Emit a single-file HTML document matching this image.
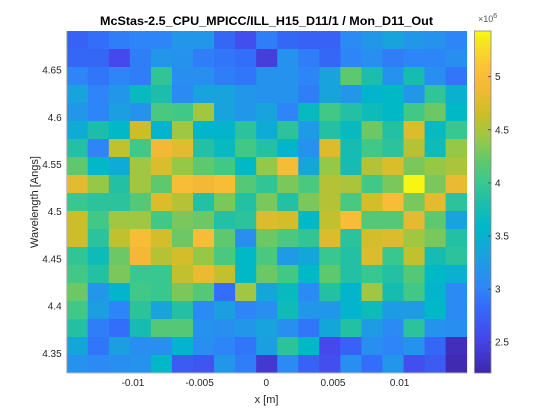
<!DOCTYPE html>
<html><head><meta charset="utf-8"><style>
html,body{margin:0;padding:0;background:#fff;}
svg{display:block;font-family:"Liberation Sans","DejaVu Sans",sans-serif;}
</style></head><body>
<svg id="chart" width="560" height="420" viewBox="0 0 560 420">
<defs>
<linearGradient id="cbgrad" x1="0" y1="1" x2="0" y2="0"></linearGradient>
</defs>
<g id="cells"></g>
<g id="axes"></g>
<text x="266.5" y="25" text-anchor="middle" font-size="11.5" font-weight="bold" fill="#000" textLength="333" lengthAdjust="spacingAndGlyphs">McStas-2.5_CPU_MPICC/ILL_H15_D11/1 / Mon_D11_Out</text>
<text x="266.5" y="403" text-anchor="middle" font-size="11" fill="#262626">x [m]</text>
<text x="0" y="0" transform="translate(38,202) rotate(-90)" text-anchor="middle" font-size="11" fill="#262626">Wavelength [Angs]</text>
<g id="colorbar"></g>
<text x="478" y="22" font-size="9" fill="#555">×10<tspan dy="-4" font-size="7">6</tspan></text>
</svg>
<script>
// ---- data ----
const xTicks = [-0.01, -0.005, 0, 0.005, 0.01];
const xTickLabels = ["-0.01", "-0.005", "0", "0.005", "0.01"];
const yTicks = [4.35, 4.4, 4.45, 4.5, 4.55, 4.6, 4.65];
const yTickLabels = ["4.35", "4.4", "4.45", "4.5", "4.55", "4.6", "4.65"];
const cbTicks = [2.5, 3, 3.5, 4, 4.5, 5];
const cbTickLabels = ["2.5", "3", "3.5", "4", "4.5", "5"];
const xRange = [-0.01497, 0.01503];
const yRange = [4.3291, 4.6914];
const cRange = [2.21, 5.43];
// intensity (x1e6), rows from top (high wavelength) to bottom
const row0  = [2.75,2.85,2.95,3.0,3.0,3.2,3.2,2.8,2.6,2.95,2.8,2.75,2.75,3.05,3.2,3.35,3.2,3.15,3.0];
const row1  = [2.8,2.8,2.55,2.95,3.2,3.15,2.95,2.9,2.85,2.45,3.15,2.95,2.8,3.0,3.1,2.95,3.0,3.0,3.1];
const row2  = [3.0,2.9,3.0,2.95,3.95,3.1,3.1,2.95,2.9,3.15,3.15,3.0,3.35,4.2,3.8,3.15,3.75,3.1,2.9];
const row3  = [3.35,3.0,3.2,3.65,3.8,3.05,3.35,3.35,3.2,3.15,3.15,2.95,3.35,3.2,3.55,3.6,3.2,3.95,3.5];
const row4  = [3.2,3.0,3.3,3.15,4.1,4.05,4.45,3.35,3.2,3.35,3.0,3.65,4.05,3.85,3.7,3.6,4.05,4.25,3.6];
const row5  = [3.45,3.8,3.6,4.65,3.55,4.45,3.55,3.55,3.9,3.45,3.9,3.25,3.85,3.65,4.25,3.85,4.75,3.65,4.0];
const row6  = [3.85,3.0,4.6,4.05,4.9,4.8,3.85,3.65,4.05,3.85,3.55,3.15,4.75,3.75,4.05,3.9,4.55,3.7,4.4];
const row7  = [4.2,3.6,3.45,4.45,4.75,4.4,4.2,4.05,3.6,4.4,4.95,3.4,4.4,3.75,4.55,4.75,4.3,4.4,4.5];
const row8  = [4.8,4.4,3.85,4.45,4.2,5.0,4.9,5.0,4.15,3.95,4.3,4.1,4.55,4.5,4.05,4.3,5.4,4.3,4.85];
const row9  = [4.0,3.9,3.9,4.15,4.75,4.55,3.85,4.3,3.85,4.3,3.85,4.3,4.55,4.1,4.7,5.0,4.3,4.8,3.9];
const row10 = [4.65,4.05,4.45,4.45,4.05,4.3,4.25,3.85,3.9,4.75,4.7,3.6,4.6,5.0,4.15,4.15,4.8,4.2,3.35];
const row11 = [4.65,3.9,4.6,5.0,4.7,4.25,5.0,4.2,3.1,4.25,4.1,3.95,4.75,3.9,4.7,4.75,4.45,4.3,3.85];
const row12 = [3.95,3.7,4.25,4.9,4.55,4.7,4.4,4.1,3.6,4.1,3.25,3.4,4.0,3.85,4.75,4.0,4.6,3.75,3.9];
const row13 = [4.05,3.85,4.3,4.0,4.0,4.6,4.85,4.6,3.6,4.25,4.05,3.6,4.2,3.85,4.0,3.85,4.15,3.6,3.5];
const row14 = [4.25,3.2,3.55,4.05,4.0,4.3,4.15,2.85,4.45,3.4,3.65,3.05,3.85,3.55,4.45,3.75,4.05,3.55,3.05];
const row15 = [4.05,3.3,3.0,3.9,3.35,3.85,3.05,3.3,3.0,3.1,3.7,3.2,3.2,3.55,3.7,3.25,3.25,3.6,3.05];
const row16 = [3.85,2.95,2.85,3.75,4.15,4.15,3.15,3.1,3.2,3.35,3.1,2.9,3.4,3.85,3.25,3.05,3.9,3.15,3.1];
const row17 = [3.4,2.9,3.3,3.1,3.1,3.55,3.1,3.0,2.9,3.3,3.9,3.6,2.55,2.75,3.1,3.0,3.15,2.8,2.3];
const row18 = [3.15,3.05,3.1,3.15,3.6,2.7,2.65,3.2,2.95,2.4,3.05,2.75,2.6,3.1,2.85,3.2,2.6,2.7,2.25];
const grid = [row0,row1,row2,row3,row4,row5,row6,row7,row8,row9,row10,row11,row12,row13,row14,row15,row16,row17,row18];

// ---- layout ----
const L = 66.7, R = 466.7, T = 31, B = 373;
const NS = "http://www.w3.org/2000/svg";
function xScale(v){ return L + (v - xRange[0]) / (xRange[1] - xRange[0]) * (R - L); }
function yScale(v){ return B - (v - yRange[0]) / (yRange[1] - yRange[0]) * (B - T); }
const stops = [[0,62,38,168],[0.1,70,70,235],[0.2,50,110,250],[0.25,46,135,247],[0.35,25,162,222],
 [0.43,0,184,200],[0.5,32,190,168],[0.56,58,200,140],[0.62,95,200,110],[0.68,150,200,72],
 [0.76,205,190,40],[0.84,245,185,55],[0.9,252,195,55],[0.97,245,230,30],[1,249,251,14]];
function color(v){
  let t = (v - cRange[0]) / (cRange[1] - cRange[0]);
  t = Math.max(0, Math.min(1, t));
  for (let i = 1; i < stops.length; i++){
    if (t <= stops[i][0]){
      const a = stops[i-1], b = stops[i], f = (t - a[0]) / (b[0] - a[0]);
      return `rgb(${Math.round(a[1]+f*(b[1]-a[1]))},${Math.round(a[2]+f*(b[2]-a[2]))},${Math.round(a[3]+f*(b[3]-a[3]))})`;
    }
  }
  return "rgb(249,251,14)";
}
function mk(tag, attrs, parent){
  const e = document.createElementNS(NS, tag);
  for (const k in attrs) e.setAttribute(k, attrs[k]);
  parent.appendChild(e); return e;
}
const cells = document.getElementById("cells");
const nR = grid.length, nC = grid[0].length;
const dx = (xRange[1] - xRange[0]) / nC, dy = (yRange[1] - yRange[0]) / nR;
grid.forEach((row, r) => {
  row.forEach((v, c) => {
    const x0 = xScale(xRange[0] + c*dx), x1 = xScale(xRange[0] + (c+1)*dx);
    const y0 = yScale(yRange[1] - r*dy), y1 = yScale(yRange[1] - (r+1)*dy);
    const rect = mk("rect", {x:x0, y:y0, width:x1-x0+0.4, height:y1-y0+0.4, fill:color(v)}, cells);
    
    
  });
});
const axes = document.getElementById("axes");
const xl = mk("line", {x1:L, y1:B, x2:R, y2:B, stroke:"#bbb", "stroke-width":1}, axes);


const yl = mk("line", {x1:L, y1:T, x2:L, y2:B, stroke:"#bbb", "stroke-width":1}, axes);


xTicks.forEach((v, i) => {
  const t = mk("text", {x:xScale(v), y:B+13, "text-anchor":"middle", "font-size":"10", fill:"#262626"}, axes);
  t.textContent = xTickLabels[i];
  
  
});
yTicks.forEach((v, i) => {
  const t = mk("text", {x:L-5, y:yScale(v)+3.5, "text-anchor":"end", "font-size":"10", fill:"#262626"}, axes);
  t.textContent = yTickLabels[i];
  
  
});
// colorbar
const cb = document.getElementById("colorbar");
const grad = document.getElementById("cbgrad");
stops.forEach(s => { mk("stop", {offset:s[0], "stop-color":`rgb(${s[1]},${s[2]},${s[3]})`}, grad); });
const CBL = 474.5, CBR = 491, CBT = 31, CBB = 373;
function cScale(v){ return CBB - (v - cRange[0]) / (cRange[1] - cRange[0]) * (CBB - CBT); }
const bar = mk("rect", {x:CBL, y:CBT, width:CBR-CBL, height:CBB-CBT, fill:"url(#cbgrad)", stroke:"#888", "stroke-width":0.8}, cb);


cbTicks.forEach((v, i) => {
  const y = cScale(v);
  const tk = mk("line", {x1:CBR-3, y1:y, x2:CBR, y2:y, stroke:"#444", "stroke-width":0.8}, cb);
  
  
  const t = mk("text", {x:CBR+4, y:y+3.5, "font-size":"10", fill:"#262626"}, cb);
  t.textContent = cbTickLabels[i];
  
  
});
</script>
</body></html>
